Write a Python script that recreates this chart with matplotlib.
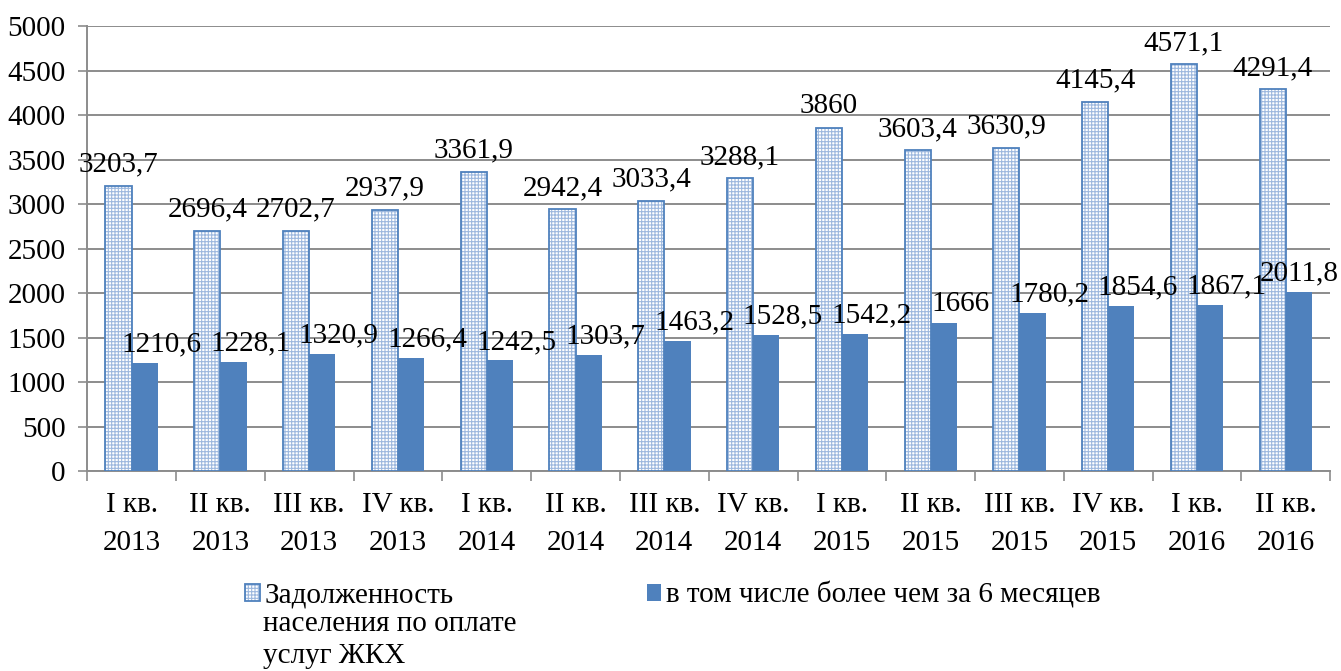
import numpy as np
import matplotlib.pyplot as plt

plt.rcParams['font.family'] = ['Liberation Serif', 'DejaVu Serif']
plt.rcParams['hatch.linewidth'] = 0.8

kvartaly = ['I кв.\n2013', 'II кв.\n2013', 'III кв.\n2013', 'IV кв.\n2013',
            'I кв.\n2014', 'II кв.\n2014', 'III кв.\n2014', 'IV кв.\n2014',
            'I кв.\n2015', 'II кв.\n2015', 'III кв.\n2015', 'IV кв.\n2015',
            'I кв.\n2016', 'II кв.\n2016']
zadolzh = [3203.7, 2696.4, 2702.7, 2937.9, 3361.9, 2942.4, 3033.4, 3288.1,
           3860, 3603.4, 3630.9, 4145.4, 4571.1, 4291.4]
bolee_6 = [1210.6, 1228.1, 1320.9, 1266.4, 1242.5, 1303.7, 1463.2, 1528.5,
           1542.2, 1666, 1780.2, 1854.6, 1867.1, 2011.8]

def fmt(v):
    s = ('%.1f' % v).rstrip('0').rstrip('.')
    return s.replace('.', ',')

azul = '#4F81BD'
fs = 21
fig = plt.figure(figsize=(13.41, 6.71), dpi=100)
ax = fig.add_axes([0.065, 0.298, 0.927, 0.663])

x = np.arange(len(kvartaly))
w = 0.295
b1 = ax.bar(x - w / 2, zadolzh, w, facecolor='white', edgecolor='#9db8de',
            hatch='+++++', linewidth=0, zorder=3)
b1o = ax.bar(x - w / 2, zadolzh, w, facecolor='none', edgecolor=azul,
             linewidth=1.3, zorder=4)
b2 = ax.bar(x + w / 2, bolee_6, w, color=azul, zorder=3)

for xi, v in zip(x, zadolzh):
    ax.annotate(fmt(v), (xi - w / 2, v), xytext=(0, 6), textcoords='offset points',
                ha='center', va='bottom', fontsize=fs, zorder=5)
for i, (xi, v) in enumerate(zip(x, bolee_6)):
    dx = 12 if i < len(x) - 1 else 0   # последний не влезает справа
    ax.annotate(fmt(v), (xi + w / 2, v), xytext=(dx, 4), textcoords='offset points',
                ha='center', va='bottom', fontsize=fs, zorder=5)

ax.set_ylim(0, 5000)
ax.set_xlim(-0.5, len(kvartaly) - 0.5)
ax.set_yticks(np.arange(0, 5001, 500))
ax.set_xticks(x)
ax.set_xticklabels(kvartaly, fontsize=fs, linespacing=1.6)
ax.set_xticks(np.arange(-0.5, len(kvartaly), 1), minor=True)
ax.tick_params(axis='x', which='major', length=0, pad=15)
ax.tick_params(axis='x', which='minor', length=7, color='#8c8c8c', width=1.2)
ax.tick_params(axis='y', labelsize=fs, length=6.5, color='#8c8c8c', width=1.2, pad=9)
ax.grid(axis='y', color='#8c8c8c', linewidth=1.4, zorder=0)
ax.set_axisbelow(True)
for s in ['top', 'right']:
    ax.spines[s].set_visible(False)
for s in ['left', 'bottom']:
    ax.spines[s].set_color('#8c8c8c')
    ax.spines[s].set_linewidth(1.4)

fig.legend(handles=[(b1, b1o), b2],
           labels=['Задолженность', 'в том числе более чем за 6 месяцев'],
           loc='upper left', bbox_to_anchor=(0.183, 0.133),
           ncol=2, frameon=False, fontsize=fs, handlelength=0.5, handleheight=0.5,
           handletextpad=0.15, columnspacing=6.63, borderaxespad=0, borderpad=0)
fig.text(0.196, 0.046, 'населения по оплате\nуслуг ЖКХ', fontsize=fs,
         va='center', ha='left', linespacing=1.3)

fig.savefig('out.png', dpi=100)
